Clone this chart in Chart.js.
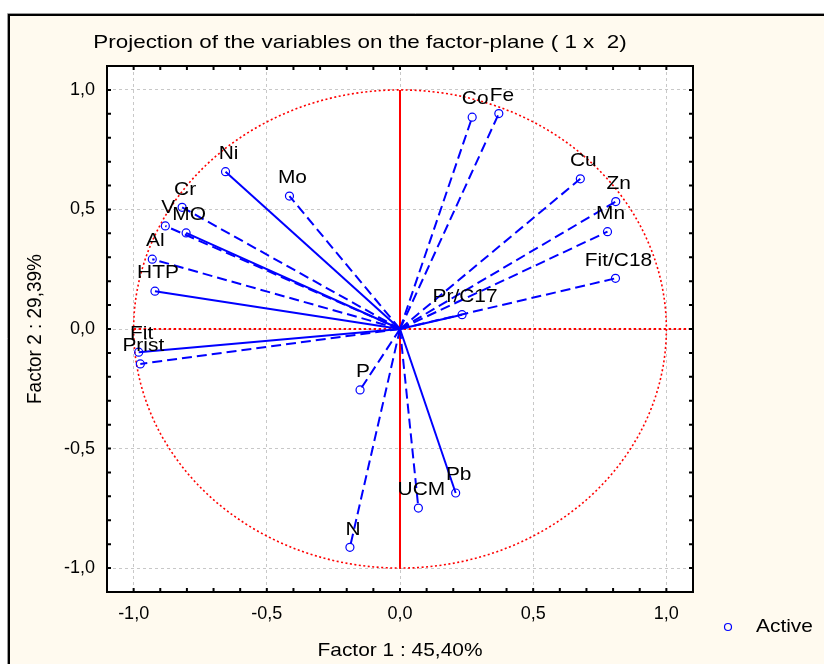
<!DOCTYPE html>
<html>
<head>
<meta charset="utf-8">
<title>Projection of the variables on the factor-plane</title>
<script src="https://cdn.jsdelivr.net/npm/chart.js@4.4.1/dist/chart.umd.min.js"></script>
<style>
  html, body { margin: 0; padding: 0; background: #ffffff; }
  #wrap { width: 824px; height: 664px; }
</style>
</head>
<body>
<div id="wrap"><canvas id="chart" width="824" height="664"></canvas></div>
<script>
// factor loadings of each variable on factors 1 and 2
const variables = ['Co', 'Fe', 'Cu', 'Zn', 'Mn', 'Fit/C18', 'Pr/C17', 'Ni', 'Mo', 'Cr', 'V', 'MO', 'Al', 'HTP', 'Fit', 'Prist', 'P', 'N', 'UCM', 'Pb'];
const factor1 = [0.271, 0.371, 0.677, 0.810, 0.779, 0.809, 0.233, -0.655, -0.415, -0.818, -0.881, -0.803, -0.930, -0.920, -0.981, -0.975, -0.150, -0.188, 0.069, 0.209];
const factor2 = [0.886, 0.901, 0.628, 0.533, 0.407, 0.212, 0.060, 0.658, 0.556, 0.509, 0.431, 0.402, 0.292, 0.158, -0.097, -0.146, -0.255, -0.913, -0.749, -0.686];
// vectors drawn with a solid line, all others dashed
const solidVars = ['Pr/C17', 'Ni', 'MO', 'HTP', 'Fit', 'Pb'];

const tickValues = [-1.0, -0.5, 0.0, 0.5, 1.0];
const tickLabels = ['-1,0', '-0,5', '0,0', '0,5', '1,0'];

const titleText = 'Projection of the variables on the factor-plane ( 1 x  2)';
const xTitle = 'Factor 1 : 45,40%';
const yTitle = 'Factor 2 : 29,39%';
const legendText = 'Active';

const FONT = '"Liberation Sans", Arial, sans-serif';
const BLUE = '#0000ff';
const RED = '#ff0000';

function drawText(ctx, text, x, y, size, sx, align, angle) {
  ctx.save();
  ctx.translate(x, y);
  if (angle) {
    ctx.rotate(angle);
    ctx.scale(1, sx);
  } else {
    ctx.scale(sx, 1);
  }
  ctx.font = size + 'px ' + FONT;
  ctx.fillStyle = '#000';
  ctx.textAlign = align || 'center';
  ctx.textBaseline = 'middle';
  ctx.fillText(text, 0, 0);
  ctx.restore();
}

// page background, outer frame and white plot area
const framePlugin = {
  id: 'frame',
  beforeDraw(chart) {
    const ctx = chart.ctx;
    const { left, top, width, height } = chart.chartArea;
    ctx.save();
    ctx.fillStyle = '#ffffff';
    ctx.fillRect(0, 0, chart.width, chart.height);
    ctx.fillStyle = '#fffaef';
    ctx.fillRect(8, 14, chart.width - 8, chart.height - 14);
    ctx.strokeStyle = '#9a9a9a';
    ctx.lineWidth = 1;
    ctx.beginPath();
    ctx.moveTo(7.5, chart.height); ctx.lineTo(7.5, 13.5); ctx.lineTo(chart.width, 13.5);
    ctx.stroke();
    ctx.strokeStyle = '#000';
    ctx.lineWidth = 2;
    ctx.beginPath();
    ctx.moveTo(9, chart.height); ctx.lineTo(9, 15); ctx.lineTo(chart.width, 15);
    ctx.stroke();
    ctx.fillStyle = '#ffffff';
    ctx.fillRect(left, top, width, height);
    ctx.restore();
  }
};

// unit circle and the two red axes through the origin
const guidePlugin = {
  id: 'guides',
  beforeDatasetsDraw(chart) {
    const { ctx, chartArea } = chart;
    const x = chart.scales.x, y = chart.scales.y;
    const cx = x.getPixelForValue(0), cy = y.getPixelForValue(0);
    const rx = x.getPixelForValue(1) - cx, ry = cy - y.getPixelForValue(1);
    ctx.save();
    ctx.strokeStyle = RED;
    ctx.lineWidth = 1.6;
    ctx.setLineDash([2, 2.5]);
    ctx.beginPath();
    ctx.ellipse(cx, cy, rx, ry, 0, 0, Math.PI * 2);
    ctx.stroke();
    ctx.lineWidth = 2;
    ctx.setLineDash([2.5, 2.5]);
    ctx.beginPath();
    ctx.moveTo(x.getPixelForValue(-1), cy);
    ctx.lineTo(chartArea.right, cy);
    ctx.stroke();
    ctx.setLineDash([]);
    ctx.beginPath();
    ctx.moveTo(cx, y.getPixelForValue(1));
    ctx.lineTo(cx, y.getPixelForValue(-1));
    ctx.stroke();
    ctx.restore();
  }
};

// variable names, plot box with inward ticks, titles and legend
const annotatePlugin = {
  id: 'annotate',
  afterDatasetsDraw(chart) {
    const { ctx, chartArea } = chart;
    const x = chart.scales.x, y = chart.scales.y;
    variables.forEach((name, i) => {
      const px = x.getPixelForValue(factor1[i]);
      const py = y.getPixelForValue(factor2[i]);
      drawText(ctx, name, px + 3, py - 18, 19, 1.1);
    });

    ctx.save();
    ctx.strokeStyle = '#000';
    ctx.lineWidth = 2;
    ctx.strokeRect(chartArea.left, chartArea.top, chartArea.right - chartArea.left, chartArea.bottom - chartArea.top);
    ctx.beginPath();
    for (let i = -10; i <= 10; i++) {
      const v = i / 10;
      const tx = x.getPixelForValue(v);
      const ty = y.getPixelForValue(v);
      ctx.moveTo(tx, chartArea.bottom); ctx.lineTo(tx, chartArea.bottom - 4);
      ctx.moveTo(tx, chartArea.top); ctx.lineTo(tx, chartArea.top + 4);
      ctx.moveTo(chartArea.left, ty); ctx.lineTo(chartArea.left + 4, ty);
      ctx.moveTo(chartArea.right, ty); ctx.lineTo(chartArea.right - 4, ty);
    }
    ctx.stroke();
    ctx.restore();

    drawText(ctx, titleText, 360, 43, 19, 1.18);
    drawText(ctx, xTitle, x.getPixelForValue(0), 651, 19, 1.1);
    drawText(ctx, yTitle, 35, y.getPixelForValue(0), 19, 1.1, 'center', -Math.PI / 2);

    ctx.save();
    ctx.strokeStyle = BLUE;
    ctx.lineWidth = 1.2;
    ctx.beginPath();
    ctx.arc(728, 627, 3.5, 0, Math.PI * 2);
    ctx.stroke();
    ctx.restore();
    drawText(ctx, legendText, 756, 627, 19, 1.1, 'left');
  }
};

const datasets = variables.map((name, i) => ({
  label: name,
  data: [{ x: 0, y: 0 }, { x: factor1[i], y: factor2[i] }],
  showLine: true,
  borderColor: BLUE,
  borderWidth: 2,
  borderDash: solidVars.includes(name) ? [] : [10, 5],
  pointRadius: [0, 4],
  pointHoverRadius: [0, 4],
  pointBorderColor: BLUE,
  pointBackgroundColor: 'rgba(0,0,0,0)',
  pointBorderWidth: 1.2
}));

const axisTicks = {
  color: '#000',
  font: { family: FONT, size: 18 },
  callback: (value, index) => tickLabels[index]
};

new Chart(document.getElementById('chart'), {
  type: 'scatter',
  data: { datasets: datasets },
  options: {
    responsive: false,
    animation: false,
    events: [],
    layout: { padding: { left: 7, right: 131, top: 66, bottom: 0 } },
    plugins: {
      legend: { display: false },
      tooltip: { enabled: false },
      title: { display: false }
    },
    scales: {
      x: {
        type: 'linear',
        min: -1.1,
        max: 1.1,
        afterBuildTicks: s => { s.ticks = tickValues.map(v => ({ value: v })); },
        afterFit: s => { s.height = 72; },
        grid: { color: '#c8c8c8', lineWidth: 1, drawTicks: false },
        border: { display: false, dash: [3, 3] },
        ticks: Object.assign({ padding: 11 }, axisTicks)
      },
      y: {
        type: 'linear',
        min: -1.1,
        max: 1.1,
        afterBuildTicks: s => { s.ticks = tickValues.map(v => ({ value: v })); },
        afterFit: s => { s.width = 100; },
        grid: { color: '#c8c8c8', lineWidth: 1, drawTicks: false },
        border: { display: false, dash: [3, 3] },
        ticks: Object.assign({ padding: 12 }, axisTicks)
      }
    }
  },
  plugins: [framePlugin, guidePlugin, annotatePlugin]
});
</script>
</body>
</html>
